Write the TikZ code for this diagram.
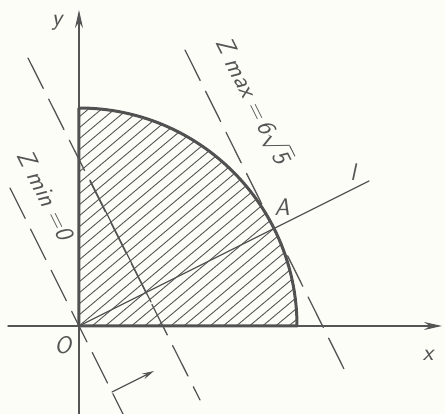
\documentclass[tikz,border=0pt]{standalone}
\usetikzlibrary{arrows.meta}
\definecolor{bg}{RGB}{253,253,248}
\definecolor{ink}{RGB}{85,85,85}
\begin{document}
\begin{tikzpicture}[x=1pt,y=1pt,
  inkline/.style={draw=ink, line cap=round},
  axis/.style={inkline, line width=1.4pt, -{Stealth[length=18pt,width=8pt]}},
  bound/.style={draw=ink!95!black, line width=3pt, line join=round},
  level/.style={inkline, line width=1.3pt, dash pattern=on 34pt off 12pt},
  hatch/.style={draw=ink, line width=0.9pt},
  lab/.style={font=\fontsize{24}{26}\selectfont\sffamily\slshape, text=ink, inner sep=0pt},
  rlab/.style={lab, font=\fontsize{25}{27}\selectfont\sffamily\slshape, rotate=-63.43},
]
\fill[bg] (-79,-88) rectangle (366,326);
\useasboundingbox (-79,-88) rectangle (366,326);
% coordinates
\coordinate (O) at (0,0);
\coordinate (X0) at (-71,0); \coordinate (X1) at (363,0);
\coordinate (Y0) at (0,-88); \coordinate (Y1) at (0,316);
\coordinate (R) at (218,0); \coordinate (T) at (0,218);
\coordinate (A) at (195,97.5);
\coordinate (L) at (290,145);
\coordinate (ZM1) at (106,276); \coordinate (ZM2) at (269,-51);
\coordinate (M1) at (-51,268); \coordinate (M2) at (121,-74);
\coordinate (Ma) at (11,146); \coordinate (Mb) at (72,24);
\coordinate (Z1) at (-69,138); \coordinate (Z2) at (44,-88);
\coordinate (P1) at (33,-66); \coordinate (P2) at (75,-45);
% hatching
\begin{scope}
\clip (O) -- (R) arc[start angle=0,end angle=90,radius=218] -- cycle;
\foreach \c in {-220,-209,...,230} \draw[hatch] (-5,{\c-4.2}) -- (230,{\c+193});
\end{scope}
% axes
\draw[axis] (X0) -- (X1);
\draw[axis] (Y0) -- (Y1);
% region boundary
\draw[bound] (T) -- (O) -- (R) arc[start angle=0,end angle=90,radius=218];
% line l
\draw[inkline, line width=1.2pt] (O) -- (L);
% level lines
\draw[level] (ZM1) -- (ZM2);
\draw[level] (M1) -- (M2);
\draw[inkline, line width=1.3pt] (Ma) -- (Mb);
\draw[level] (Z1) -- (Z2);
% direction arrow
\draw[inkline, line width=1.2pt, -{Stealth[length=12pt,width=6pt]}] (P1) -- (P2);
% labels
\node[lab] (ylab) at (-22,303) {y};
\node[lab] (xlab) at (349,-29) {x};
\node[lab] (olab) at (-16,-19) {O};
\node[lab] (llab) at (274,154) {l};
\node[lab] (alab) at (203,119) {A};
\node[rlab] (zmax) at (175,226) {Z max =\,6$\sqrt{\mbox{5}}$};
\node[rlab] (zmin) at (-33,131) {Z min =0};
\end{tikzpicture}
\end{document}
